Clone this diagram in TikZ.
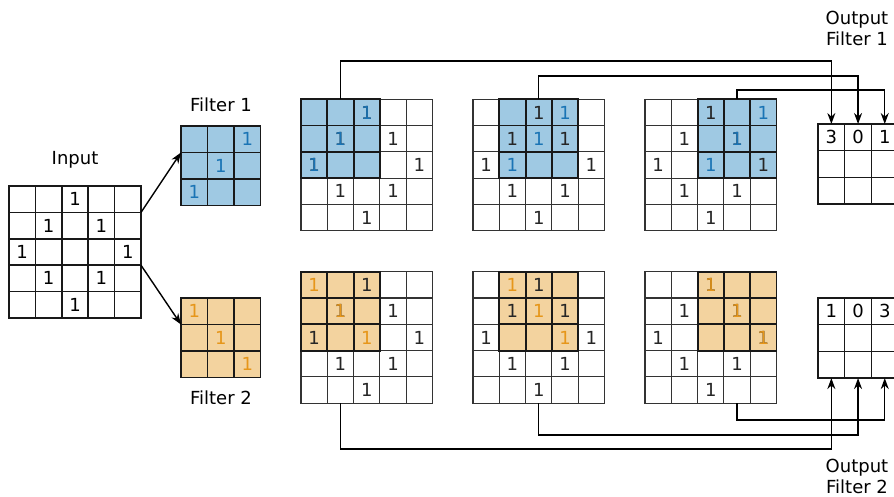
\documentclass[tikz,border=0pt]{standalone}
\usepackage{fontspec}
\setmainfont{DejaVu Sans}
\usepackage{tikz}
\usetikzlibrary{arrows.meta,calc,positioning}
\definecolor{fblue}{HTML}{9FC9E3}
\definecolor{tblue}{HTML}{1A74B5}
\definecolor{forange}{HTML}{F3D39F}
\definecolor{torange}{HTML}{E6961A}
\def\inones{1/3,2/2,2/4,3/1,3/5,4/2,4/4,5/3}

\begin{document}
\begin{tikzpicture}[x=1pt,y=-1pt, font=\fontsize{18}{21}\selectfont,
    cell/.style={draw=black!80, line width=1.1pt, minimum size=#1, inner sep=0pt, outer sep=0pt},
    cell/.default=26.3pt,
    bold cell/.style={cell=#1, draw=black!90, line width=1.5pt},
    bold cell/.default=26.4pt,
    hit/.style={cell, draw=black!90, line width=1.8pt},
    num/.style={inner sep=0pt},
    bus/.style={line width=1.4pt, -{Stealth[length=11pt,width=8pt]}},
    feed/.style={line width=1.4pt, -{Stealth[length=11pt,width=8pt]}}]
  \useasboundingbox (0,0) rectangle (894,497);
  % input grid
  \foreach \r in {1,...,5}
    \foreach \c in {1,...,5}
      \node[bold cell] (in-\r-\c) at (9+\c*26.4-13.2, 186+\r*26.4-13.2) {};
  \foreach \r/\c in \inones
    \node[num] (in-\r-\c-v) at (in-\r-\c) {1};
  \node (inlabel) at (75,160) {Input};
  % the two filters
  \foreach \r in {1,2,3}
    \foreach \c in {1,2,3} {
      \node[bold cell=26.5pt, fill=fblue] (fa-\r-\c) at (181+\c*26.5-13.25, 126+\r*26.5-13.25) {};
      \node[bold cell=26.5pt, fill=forange] (fb-\r-\c) at (181+\c*26.5-13.25, 298+\r*26.5-13.25) {};
    }
  \foreach \r/\c in {1/3,2/2,3/1}
    \node[num, text=tblue] (fa-\r-\c-v) at (fa-\r-\c) {1};
  \foreach \r/\c in {1/1,2/2,3/3}
    \node[num, text=torange] (fb-\r-\c-v) at (fb-\r-\c) {1};
  \node (falabel) at (221,105) {Filter 1};
  \node (fblabel) at (221,398) {Filter 2};
  \draw[feed] (in-1-5.south east) -- (fa-2-1.north west);
  \draw[feed] (in-4-5.north east) -- (fb-1-1.south west);
  % sliding windows, top row filter 1, bottom row filter 2
  \foreach \g/\gx/\off in {1/301/0,2/473/1,3/645/2} {
    \foreach \r in {1,...,5}
      \foreach \c in {1,...,5} {
        \node[cell] (t\g-\r-\c) at (\gx+\c*26.3-13.15, 99.3+\r*26.3-13.15) {};
        \node[cell] (b\g-\r-\c) at (\gx+\c*26.3-13.15, 271.7+\r*26.3-13.15) {};
      }
    \foreach \r in {1,2,3}
      \foreach \c in {1,2,3} {
        \pgfmathtruncatemacro\cc{\c+\off}
        \node[hit, fill=fblue] (t\g-h-\r-\c) at (t\g-\r-\cc) {};
        \node[hit, fill=forange] (b\g-h-\r-\c) at (b\g-\r-\cc) {};
      }
    \foreach \r/\c in \inones {
      \node[num, text=black!85] (t\g-\r-\c-v) at (t\g-\r-\c) {1};
      \node[num, text=black!85] (b\g-\r-\c-v) at (b\g-\r-\c) {1};
    }
    \foreach \r/\c in {1/3,2/2,3/1} {
      \pgfmathtruncatemacro\cc{\c+\off}
      \node[num, text=tblue] (t\g-\r-\cc-f) at (t\g-\r-\cc) {1};
    }
    \foreach \r/\c in {1/1,2/2,3/3} {
      \pgfmathtruncatemacro\cc{\c+\off}
      \node[num, text=torange] (b\g-\r-\cc-f) at (b\g-\r-\cc) {1};
    }
  }
  % output grids
  \foreach \r in {1,2,3}
    \foreach \c in {1,2,3} {
      \node[bold cell=26.7pt] (oa-\r-\c) at (818+\c*26.7-13.35, 124+\r*26.7-13.35) {};
      \node[bold cell=26.7pt] (ob-\r-\c) at (818+\c*26.7-13.35, 298+\r*26.7-13.35) {};
    }
  \foreach \c/\v in {1/3,2/0,3/1}
    \node[num] (oa-1-\c-v) at (oa-1-\c) {\v};
  \foreach \c/\v in {1/1,2/0,3/3}
    \node[num] (ob-1-\c-v) at (ob-1-\c) {\v};
  \node[align=center] (oalabel) at (857,28) {Output\\Filter 1};
  \node[align=center] (oblabel) at (857,476) {Output\\Filter 2};
  % bus heights
  \coordinate (busa) at (0,61);
  \coordinate (busb) at (0,76);
  \coordinate (busc) at (0,90);
  \coordinate (busd) at (0,449);
  \coordinate (buse) at (0,435);
  \coordinate (busf) at (0,420);
  \draw[bus] (t1-1-2.north) -- (t1-1-2.north |- busa) -| (oa-1-1.north);
  \draw[bus] (t2-1-3.north) -- (t2-1-3.north |- busb) -| (oa-1-2.north);
  \draw[bus] (t3-1-4.north) -- (t3-1-4.north |- busc) -| (oa-1-3.north);
  \draw[bus] (b1-5-2.south) -- (b1-5-2.south |- busd) -| (ob-3-1.south);
  \draw[bus] (b2-5-3.south) -- (b2-5-3.south |- buse) -| (ob-3-2.south);
  \draw[bus] (b3-5-4.south) -- (b3-5-4.south |- busf) -| (ob-3-3.south);
\end{tikzpicture}
\end{document}
